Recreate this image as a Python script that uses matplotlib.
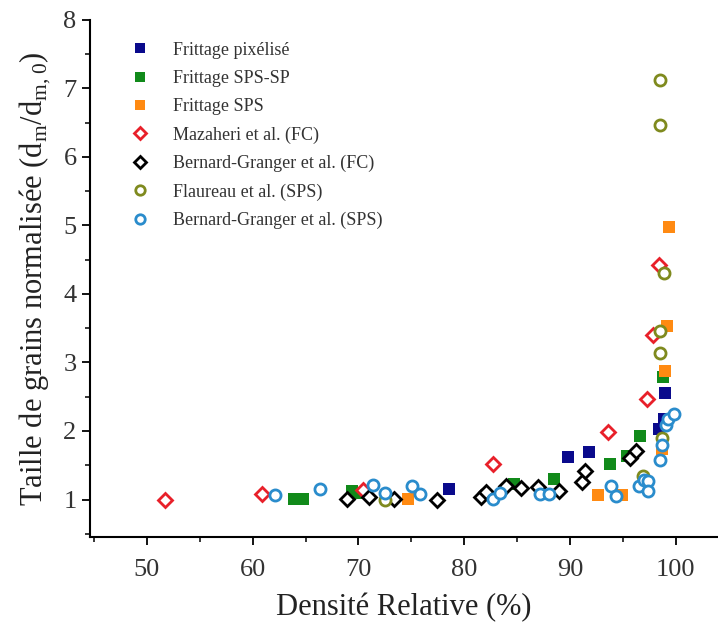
import matplotlib
matplotlib.use('Agg')
import matplotlib.pyplot as plt
from matplotlib.ticker import MultipleLocator

plt.rcParams['font.family'] = ['Liberation Serif', 'DejaVu Serif']
plt.rcParams['mathtext.fontset'] = 'custom'
plt.rcParams['mathtext.rm'] = 'Liberation Serif'

# Frittage pixélisé
pix_x = [78.6, 89.8, 91.85, 98.4, 98.85, 99.0]
pix_y = [1.16, 1.62, 1.69, 2.03, 2.18, 2.56]

# Frittage SPS-SP
spssp_x = [63.9, 64.8, 69.4, 70.1, 84.7, 88.5, 93.8, 95.4, 96.6, 98.8]
spssp_y = [1.01, 1.01, 1.12, 1.10, 1.23, 1.30, 1.52, 1.63, 1.93, 2.79]

# Frittage SPS
sps_x = [74.7, 92.7, 94.9, 98.7, 99.0, 99.2, 99.4]
sps_y = [1.01, 1.07, 1.06, 1.73, 2.88, 3.53, 4.97]

# Mazaheri et al. (FC)
maz_x = [51.75, 60.9, 70.4, 82.7, 93.6, 97.3, 97.9, 98.4]
maz_y = [1.00, 1.08, 1.14, 1.52, 1.99, 2.47, 3.40, 4.42]

# Bernard-Granger et al. (FC)
bgfc_x = [68.9, 71.0, 73.4, 77.4, 81.6, 82.1, 84.0, 85.4, 87.0, 89.0,
          91.1, 91.4, 95.7, 96.2]
bgfc_y = [1.01, 1.03, 1.01, 0.99, 1.04, 1.11, 1.19, 1.17, 1.18, 1.12,
          1.26, 1.41, 1.61, 1.71]

# Flaureau et al. (SPS)
fla_x = [72.5, 96.9, 98.7, 98.5, 98.5, 98.9, 98.5, 98.5]
fla_y = [1.00, 1.34, 1.90, 3.14, 3.46, 4.31, 6.46, 7.12]

# Bernard-Granger et al. (SPS)
bgsps_x = [62.1, 66.4, 71.4, 72.5, 75.1, 75.8, 82.7, 83.4, 87.2, 88.0,
           93.9, 94.4, 96.5, 97.0, 97.4, 97.4, 98.5, 98.7, 99.1, 99.3, 99.8]
bgsps_y = [1.06, 1.15, 1.21, 1.09, 1.19, 1.08, 1.01, 1.10, 1.08, 1.08,
           1.19, 1.05, 1.19, 1.29, 1.27, 1.12, 1.58, 1.80, 2.08, 2.17, 2.25]

fig = plt.figure(figsize=(7.18, 6.35), dpi=100)
ax = fig.add_axes([0.125, 0.154, 0.875, 0.815])

sq = dict(linestyle='none', marker='s', markersize=8, markeredgewidth=0)
op = dict(linestyle='none', markersize=8, markeredgewidth=2, markerfacecolor='white')

ax.plot(pix_x, pix_y, color='#0a0a8c', label='Frittage pixélisé', **sq)
ax.plot(spssp_x, spssp_y, color='#118a1a', label='Frittage SPS-SP', **sq)
ax.plot(sps_x, sps_y, color='#ff8a12', label='Frittage SPS', **sq)
ax.plot(maz_x, maz_y, marker='D', color='#e8202a', label='Mazaheri et al. (FC)',
        **dict(op, markersize=7))
ax.plot(bgfc_x, bgfc_y, marker='D', color='black', label='Bernard-Granger et al. (FC)',
        **dict(op, markersize=7))
ax.plot(fla_x, fla_y, marker='o', color='#7f8a1e', label='Flaureau et al. (SPS)', **op)
ax.plot(bgsps_x, bgsps_y, marker='o', color='#2a8ccc',
        label='Bernard-Granger et al. (SPS)', **op)

ax.set_xlim(44.6, 104.0)
ax.set_ylim(0.45, 8.0)
ax.xaxis.set_major_locator(MultipleLocator(10))
ax.xaxis.set_minor_locator(MultipleLocator(5))
ax.yaxis.set_major_locator(MultipleLocator(1))
ax.yaxis.set_minor_locator(MultipleLocator(0.5))
ax.set_yticks([1, 2, 3, 4, 5, 6, 7, 8])

for s in ['top', 'right']:
    ax.spines[s].set_visible(False)
for s in ['left', 'bottom']:
    ax.spines[s].set_linewidth(1.5)

ax.tick_params(which='major', direction='out', length=6, width=1.3,
               labelsize=19, labelcolor='#333333')
ax.tick_params(axis='x', which='major', pad=10)
ax.tick_params(which='minor', direction='out', length=3.5, width=1.1)

ax.set_xlabel('Densité Relative (%)', fontsize=22, color='#222222', labelpad=8)
ax.set_ylabel(r'Taille de grains normalisée (d$_\mathregular{m}$/d$_\mathregular{m,0}$)',
              fontsize=22, color='#222222', labelpad=8)

ax.legend(loc='upper left', bbox_to_anchor=(0.16, 0.96), bbox_transform=fig.transFigure,
          frameon=False, fontsize=13, markerscale=0.85, handletextpad=1.3,
          labelspacing=0.62, handlelength=1.0, labelcolor='#333333')

fig.savefig('out.png', dpi=100)
